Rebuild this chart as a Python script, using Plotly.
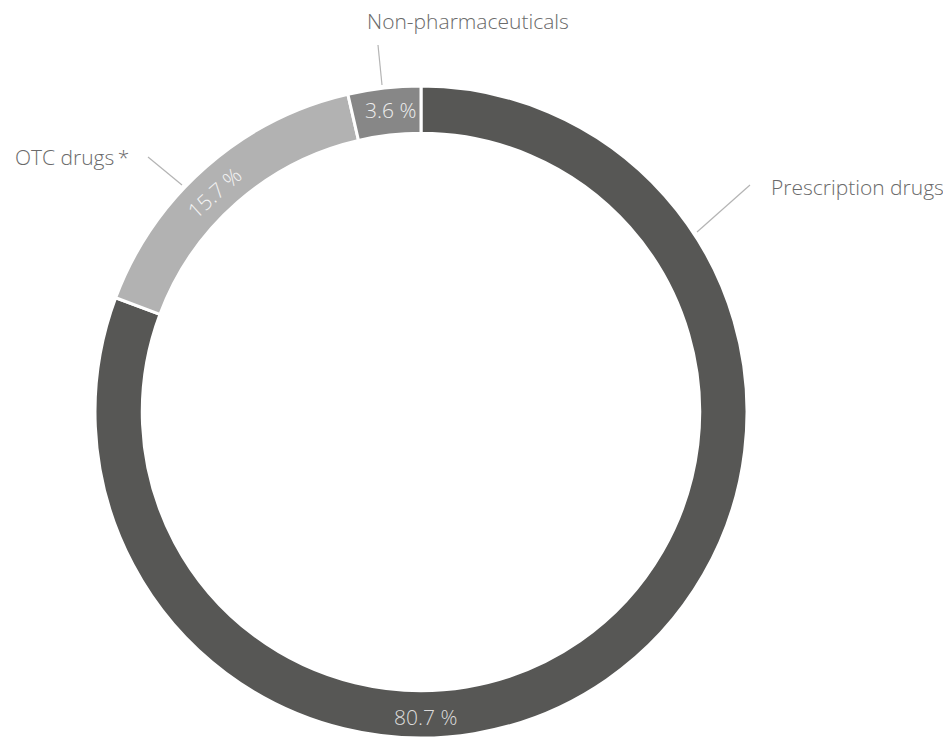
import plotly.graph_objects as go

categories = ["Prescription drugs", "OTC drugs\u2009*", "Non-pharmaceuticals"]
shares = [80.7, 15.7, 3.6]
colors = ["#575755", "#b2b2b2", "#878787"]

W, H = 951, 739
OFF = 8  # default body margin of the written page
FONT = "Open Sans"

def px(x, y):
    return (x - OFF) / W, 1 - (y - OFF) / H

fig = go.Figure(go.Pie(
    labels=categories,
    values=shares,
    sort=False,
    direction="clockwise",
    rotation=0,
    hole=0.855,
    marker=dict(colors=colors, line=dict(color="white", width=3)),
    textinfo="none",
    hoverinfo="label+value",
    showlegend=False,
    domain=dict(x=[(95 - OFF) / W, (747 - OFF) / W],
                y=[1 - (738 - OFF) / H, 1 - (86 - OFF) / H]),
))

annotations = []
shapes = []

# percentage labels inside the ring
pct_pos = [(425, 717, 0, "#dcdcdc"), (214, 193, -42, "#f4f4f4"), (390, 110, 0, "#eeeeee")]
for v, (x, y, ang, col) in zip(shares, pct_pos):
    ax, ay = px(x, y)
    annotations.append(dict(
        x=ax, y=ay, xref="paper", yref="paper", showarrow=False,
        text=f"{v:.1f} %", textangle=ang, xanchor="center", yanchor="middle",
        font=dict(family=FONT, size=21, color=col, weight=300),
    ))

# category labels with leader lines
label_pos = [(769, 187, "left"), (13, 157, "left"), (468, 21, "center")]
line_pos = [((750, 185), (697, 232)), ((148, 157), (182, 185)), ((378, 45), (382, 85))]
for name, (x, y, anc), (p0, p1) in zip(categories, label_pos, line_pos):
    ax, ay = px(x, y)
    annotations.append(dict(
        x=ax, y=ay, xref="paper", yref="paper", showarrow=False,
        text=name, xanchor=anc, yanchor="middle",
        font=dict(family=FONT, size=21, color="#6a6a6a", weight=300),
    ))
    x0, y0 = px(*p0)
    x1, y1 = px(*p1)
    shapes.append(dict(type="line", xref="paper", yref="paper",
                       x0=x0, y0=y0, x1=x1, y1=y1,
                       line=dict(color="#b4b4b4", width=1.2)))

fig.update_layout(
    width=W, height=H,
    margin=dict(l=0, r=0, t=0, b=0),
    paper_bgcolor="white",
    plot_bgcolor="white",
    annotations=annotations,
    shapes=shapes,
)

fig.write_html("out.html")
